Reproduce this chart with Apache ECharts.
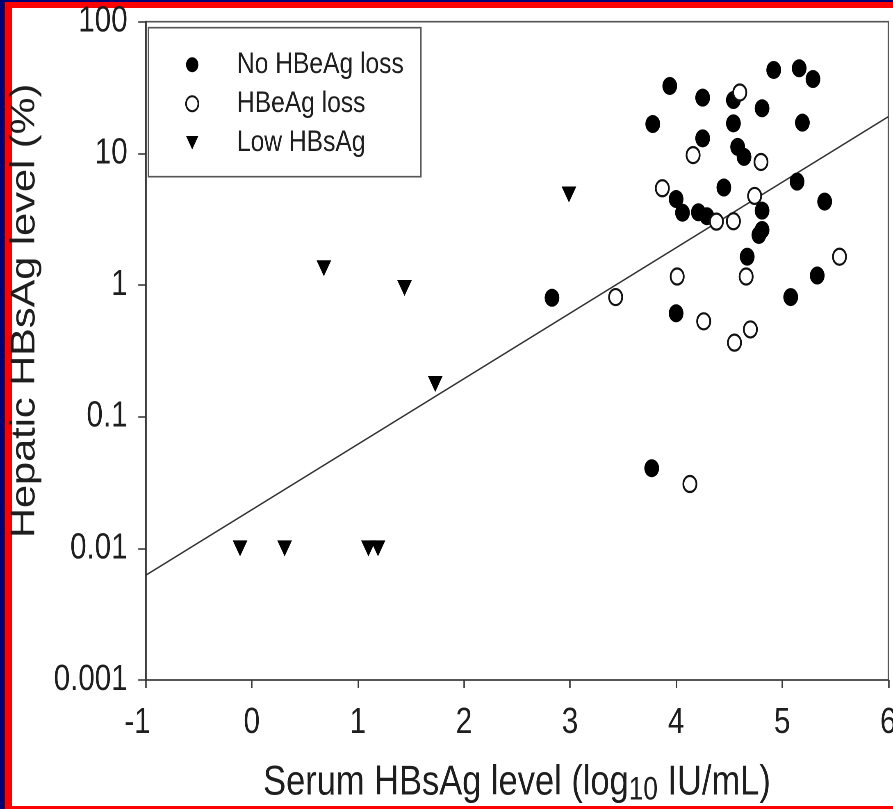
<!DOCTYPE html>
<html>
<head>
<meta charset="utf-8">
<script src="https://cdn.jsdelivr.net/npm/echarts@6/dist/echarts.min.js"></script>
<style>
  html, body { margin: 0; padding: 0; }
  body { width: 893px; height: 809px; overflow: hidden; background: #000075; position: relative; }
  #red { position: absolute; left: 5px; top: 2px; right: 0; bottom: 0; background: #ff0000; }
  #white { position: absolute; left: 12px; top: 8px; right: 0; bottom: 3px; background: #ffffff; }
  /* the reference figure is horizontally compressed; draw wider and squeeze */
  #chart { position: absolute; left: 0; top: 0; width: 1089px; height: 809px;
           transform: scaleX(0.82); transform-origin: 0 0; }
</style>
</head>
<body>
<div id="red"></div>
<div id="white"></div>
<div id="chart"></div>
<script>
// ---- data ----
const seriesNames = ['No HBeAg loss', 'HBeAg loss', 'Low HBsAg'];

const noLossX = [3.94, 3.78, 4.25, 4.54, 4.54, 4.81, 4.92, 5.16, 5.29, 5.19, 4.25, 4.58, 4.64, 4.45, 4.00, 4.06, 4.21, 4.29, 5.14, 5.40, 4.81, 4.81, 4.78, 4.67, 5.33, 5.08, 4.00, 2.83, 3.77];
const noLossY = [32.5, 16.7, 26.5, 25.4, 16.9, 22.0, 43.0, 44.3, 36.7, 17.1, 13.0, 11.2, 9.4, 5.5, 4.5, 3.54, 3.57, 3.33, 6.1, 4.3, 3.67, 2.62, 2.40, 1.64, 1.18, 0.81, 0.61, 0.80, 0.0406];

const lossX = [4.60, 4.16, 4.80, 3.87, 4.74, 4.38, 4.54, 4.01, 4.66, 5.54, 3.43, 4.26, 4.70, 4.55, 4.13];
const lossY = [29.0, 9.7, 8.6, 5.43, 4.75, 3.03, 3.05, 1.16, 1.16, 1.64, 0.81, 0.53, 0.46, 0.365, 0.0308];

const lowX = [-0.11, 0.31, 1.10, 1.19, 0.68, 1.44, 1.73, 2.99];
const lowY = [0.01, 0.01, 0.01, 0.01, 1.34, 0.95, 0.177, 4.87];

const fitX = [-1, 6];
const fitY = [0.00624, 18.98];

const xTickLabels = ['-1', '0', '1', '2', '3', '4', '5', '6'];
const yTickLabels = ['0.001', '0.01', '0.1', '1', '10', '100'];

const xTitle = 'Serum HBsAg level (log';
const xTitleSub = '10';
const xTitleEnd = ' IU/mL)';
const yTitle = 'Hepatic HBsAg level (%)';

// ---- chart ----
const FONT = '"Liberation Sans", Arial, Helvetica, sans-serif';
const AX = '#3a3a3a';
const TXT = '#1e1e1e';
const DOWN_TRIANGLE = 'path://M0,0 L20,0 L10,18 Z';
const pair = (xs, ys) => xs.map((x, i) => [x, ys[i]]);

const chart = echarts.init(document.getElementById('chart'), null, { renderer: 'canvas', devicePixelRatio: 2 });

chart.setOption({
  backgroundColor: 'transparent',
  animation: false,
  grid: {
    left: 177.6, right: 5.7, top: 21.7, bottom: 129,
    outerBoundsMode: 'none', containLabel: false,
    show: true, borderColor: '#555', borderWidth: 1.6, backgroundColor: 'transparent'
  },
  legend: {
    data: [
      { name: seriesNames[0], icon: 'circle' },
      { name: seriesNames[1], icon: 'circle' },
      { name: seriesNames[2], icon: DOWN_TRIANGLE }
    ],
    orient: 'vertical',
    left: 180.9, top: 27.7,
    itemWidth: 15, itemHeight: 15, itemGap: 9,
    padding: [22, 21, 19, 45],
    borderColor: '#555', borderWidth: 1.6,
    textStyle: { fontSize: 30, fontFamily: FONT, color: TXT, lineHeight: 30, padding: [0, 0, 0, 42] }
  },
  xAxis: {
    type: 'value', min: -1, max: 6, interval: 1,
    axisLine: { show: true, onZero: false, lineStyle: { color: AX, width: 1.6 } },
    axisTick: { show: true, inside: false, length: 8, lineStyle: { color: AX, width: 1.8 } },
    splitLine: { show: false },
    axisLabel: {
      fontSize: 36, fontFamily: FONT, color: TXT, margin: 25,
      formatter: v => {
        const s = xTickLabels[Math.round(v) + 1];
        return s === '-1' ? '{n|' + s + '}' : s;
      },
      rich: { n: { fontSize: 36, fontFamily: FONT, color: TXT, padding: [0, 20, 0, 0] } }
    },
    name: '{a|' + xTitle + '}{s|' + xTitleSub + '}{a|' + xTitleEnd + '}',
    nameLocation: 'middle', nameGap: 80,
    nameTextStyle: {
      rich: {
        a: { fontSize: 42, fontFamily: FONT, color: TXT, lineHeight: 46 },
        s: { fontSize: 32, fontFamily: FONT, color: TXT, lineHeight: 32, padding: [15, 0, 0, 0] }
      }
    }
  },
  yAxis: {
    type: 'log', logBase: 10, min: 0.001, max: 100,
    axisLine: { show: true, onZero: false, lineStyle: { color: AX, width: 1.9 } },
    axisTick: { show: true, inside: false, length: 9, lineStyle: { color: AX, width: 1.6 } },
    minorTick: { show: false },
    splitLine: { show: false },
    axisLabel: {
      fontSize: 36, fontFamily: FONT, color: TXT, margin: 22,
      formatter: v => yTickLabels[Math.round(Math.log10(v)) + 3]
    },
    name: yTitle,
    nameLocation: 'middle', nameGap: 126,
    nameTextStyle: { fontSize: 41.5, fontFamily: FONT, color: TXT, padding: [0, 0, 0, 80] }
  },
  series: [
    {
      type: 'line', data: pair(fitX, fitY), symbol: 'none', silent: true,
      lineStyle: { color: '#333', width: 1.6 }, z: 1
    },
    {
      name: seriesNames[0], type: 'scatter', data: pair(noLossX, noLossY),
      symbol: 'circle', symbolSize: 18,
      itemStyle: { color: '#000', opacity: 1 }, z: 3
    },
    {
      name: seriesNames[1], type: 'scatter', data: pair(lossX, lossY),
      symbol: 'circle', symbolSize: 16,
      itemStyle: { color: '#fff', borderColor: '#111', borderWidth: 2.2, opacity: 1 }, z: 4
    },
    {
      name: seriesNames[2], type: 'scatter', data: pair(lowX, lowY),
      symbol: 'triangle', symbolRotate: 180, symbolSize: [18, 16],
      itemStyle: { color: '#000', opacity: 1 }, z: 3
    }
  ]
});
</script>
</body>
</html>
